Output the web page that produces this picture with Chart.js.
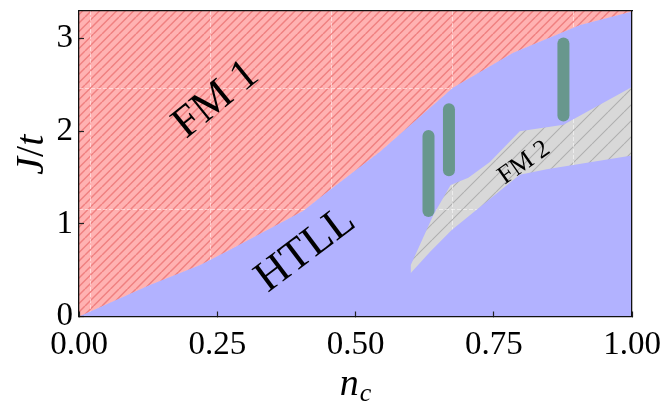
<!DOCTYPE html>
<html><head><meta charset="utf-8">
<script src="https://cdn.jsdelivr.net/npm/chart.js@4.4.1/dist/chart.umd.min.js"></script>
<style>html,body{margin:0;padding:0;background:#fff;overflow:hidden}#wrap{width:665px;height:404px;position:relative}</style>
</head><body><div id="wrap"><canvas id="c"></canvas></div>
<script>
// ---- data ----
const xTicks = [0, 0.25, 0.5, 0.75, 1.0];
const yTicks = [0, 1, 2, 3];
const xMin = 0, xMax = 1, yMin = 0, yMax = 3.3;
// faint background grid (offset from ticks)
const gridX = [0.02, 0.238, 0.457, 0.676, 0.894];
const gridY = [1.159, 2.467];
// FM 1 / HTLL boundary
const boundaryX = [0, 0.128, 0.219, 0.273, 0.405, 0.454, 0.544, 0.676, 0.785, 0.906, 1.0];
const boundaryY = [0, 0.34, 0.557, 0.72, 1.14, 1.37, 1.78, 2.47, 2.85, 3.15, 3.295];
// FM 2 pocket
const fm2LowerX = [0.600, 0.635, 0.674, 0.797, 0.846, 1.0];
const fm2LowerY = [0.47, 0.70, 0.935, 1.53, 1.59, 1.74];
const fm2UpperX = [0.600, 0.641, 0.672, 0.704, 0.743, 0.797, 0.876, 1.0];
const fm2UpperY = [0.557, 1.10, 1.42, 1.50, 1.67, 2.0, 2.07, 2.48];
// vertical bars
const barX = [0.632, 0.669, 0.876];
const barLow = [1.14, 1.58, 2.17];
const barHigh = [1.95, 2.24, 2.95];
// region labels
const labelText = ['FM 1', 'HTLL', 'FM 2'];
const labelX = [0.248, 0.41, 0.805];
const labelY = [2.34, 0.72, 1.66];

// ---- build helpers ----
const pts = (xs, ys) => xs.map((x, i) => ({x: x, y: ys[i]}));
function hatch(bg, line, step, perTile, lw) {
  const c = document.createElement('canvas');
  c.width = step; c.height = step;
  const g = c.getContext('2d');
  g.fillStyle = bg; g.fillRect(0, 0, step, step);
  g.strokeStyle = line; g.lineWidth = lw;
  g.beginPath();
  const d = step / perTile;
  for (let o = -step; o <= step; o += d) { g.moveTo(o, step); g.lineTo(o + step, 0); }
  g.stroke();
  return g.createPattern(c, 'repeat');
}
const redFill = hatch('rgb(255,178,178)', 'rgb(240,128,128)', 17, 2, 1.5);
const grayFill = hatch('rgb(216,216,216)', 'rgb(176,176,176)', 16, 1, 1.1);
const blueFill = 'rgb(178,178,255)';
const barColor = 'rgb(104,151,141)';

const boundary = pts(boundaryX, boundaryY);
const redPoly = boundary.concat([{x: xMax, y: yMax}, {x: xMin, y: yMax}]);
const bluePoly = boundary.concat([{x: xMax, y: yMin}, {x: xMin, y: yMin}]);
const fm2Poly = pts(fm2LowerX, fm2LowerY).concat(pts(fm2UpperX, fm2UpperY).reverse());

const datasets = [
  {label: 'HTLL', data: bluePoly, fill: 'shape', backgroundColor: blueFill, borderColor: blueFill, borderWidth: 1, pointRadius: 0, tension: 0, order: 5},
  {label: 'FM 1', data: redPoly, fill: 'shape', backgroundColor: redFill, borderWidth: 0, borderColor: 'rgba(0,0,0,0)', pointRadius: 0, tension: 0, order: 4},
  {label: 'FM 2', data: fm2Poly, fill: 'shape', backgroundColor: grayFill, borderWidth: 0, borderColor: 'rgba(0,0,0,0)', pointRadius: 0, tension: 0, order: 3}
];
barX.forEach((x, i) => datasets.push({
  label: 'bar' + i, data: [{x: x, y: barLow[i]}, {x: x, y: barHigh[i]}],
  fill: false, borderColor: barColor, borderWidth: 12, borderCapStyle: 'round',
  pointRadius: 0, order: 1
}));
const RED = 1, GRAY = 2;

const serif = "'Liberation Serif', 'DejaVu Serif', serif";
const frame = {display: true, color: '#111', width: 1.3, z: 2};
const noPad = s => { s.paddingLeft = 0; s.paddingRight = 0; s.paddingTop = 0; s.paddingBottom = 0; };

const overlay = {
  id: 'overlay',
  afterDatasetDraw(chart, args) {
    if (args.index !== GRAY) return;
    const ctx = chart.ctx, a = chart.chartArea;
    ctx.save();
    ctx.beginPath(); ctx.rect(a.left, a.top, a.right - a.left, a.bottom - a.top); ctx.clip();
    ctx.beginPath();
    chart.getDatasetMeta(RED).dataset.path(ctx); ctx.closePath();
    chart.getDatasetMeta(GRAY).dataset.path(ctx); ctx.closePath();
    ctx.clip();
    chart.scales.xg.drawGrid(a);
    chart.scales.yg.drawGrid(a);
    ctx.restore();
  },
  afterDraw(chart) {
    const ctx = chart.ctx, a = chart.chartArea, sx = chart.scales.x, sy = chart.scales.y;
    const angles = [-39, -37, -35], sizes = [44, 44, 26];
    ctx.save();
    ctx.fillStyle = '#000';
    labelText.forEach((t, i) => {
      ctx.save();
      ctx.translate(sx.getPixelForValue(labelX[i]), sy.getPixelForValue(labelY[i]));
      ctx.rotate(angles[i] * Math.PI / 180);
      ctx.font = sizes[i] + 'px ' + serif;
      ctx.textAlign = 'center'; ctx.textBaseline = 'middle';
      ctx.fillText(t, 0, 0);
      ctx.restore();
    });
    // x title n_c
    const cx = (a.left + a.right) / 2, by = 395;
    ctx.textBaseline = 'alphabetic'; ctx.textAlign = 'left';
    ctx.font = 'italic 38px ' + serif;
    const wn = ctx.measureText('n').width;
    ctx.font = 'italic 26px ' + serif;
    const wc = ctx.measureText('c').width;
    let x0 = cx - (wn + wc + 1) / 2;
    ctx.font = 'italic 38px ' + serif; ctx.fillText('n', x0, by);
    ctx.font = 'italic 26px ' + serif; ctx.fillText('c', x0 + wn + 1, by + 6);
    // y title J/t
    ctx.save();
    ctx.translate(43, (a.top + a.bottom) / 2 - 9);
    ctx.rotate(-Math.PI / 2);
    const parts = [['J', 'italic 40px '], ['/', '40px '], ['t', 'italic 40px ']];
    let tw = 0;
    parts.forEach(p => { ctx.font = p[1] + serif; tw += ctx.measureText(p[0]).width; });
    let px = -tw / 2;
    parts.forEach(p => { ctx.font = p[1] + serif; ctx.fillText(p[0], px, 0); px += ctx.measureText(p[0]).width; });
    ctx.restore();
    ctx.restore();
  }
};

new Chart(document.getElementById('c'), {
  type: 'line',
  data: {datasets: datasets},
  plugins: [overlay],
  options: {
    responsive: true, maintainAspectRatio: false, animation: false,
    layout: {padding: {top: 11, right: 33, left: 0, bottom: 0}},
    plugins: {legend: {display: false}, tooltip: {enabled: false}},
    elements: {line: {tension: 0}},
    scales: {
      x: {type: 'linear', position: 'bottom', min: xMin, max: xMax,
        afterBuildTicks: s => { s.ticks = xTicks.map(v => ({value: v})); },
        afterFit: s => { s.height = 87.5; noPad(s); },
        ticks: {callback: v => Number(v).toFixed(2), font: {family: serif, size: 33}, color: '#000', padding: 14, maxRotation: 0, autoSkip: false},
        grid: {display: true, drawOnChartArea: false, drawTicks: true, tickLength: -5, tickColor: '#222', tickWidth: 1.2, z: 1},
        border: frame},
      y: {type: 'linear', position: 'left', min: yMin, max: yMax,
        afterBuildTicks: s => { s.ticks = yTicks.map(v => ({value: v})); },
        afterFit: s => { s.width = 79; noPad(s); },
        ticks: {callback: v => String(v), font: {family: serif, size: 33}, color: '#000', padding: 11, autoSkip: false},
        grid: {display: true, drawOnChartArea: false, drawTicks: true, tickLength: -5, tickColor: '#222', tickWidth: 1.2, z: 1},
        border: frame},
      xt: {type: 'linear', position: 'top', min: xMin, max: xMax,
        ticks: {display: false}, grid: {display: false}, border: frame,
        afterFit: s => { s.height = 0; noPad(s); }},
      yr: {type: 'linear', position: 'right', min: yMin, max: yMax,
        ticks: {display: false}, grid: {display: false}, border: frame,
        afterFit: s => { s.width = 0; noPad(s); }},
      xg: {type: 'linear', display: false, position: 'bottom', min: xMin, max: xMax,
        afterBuildTicks: s => { s.ticks = gridX.map(v => ({value: v})); },
        afterFit: noPad,
        grid: {display: true, drawOnChartArea: true, drawTicks: false, color: 'rgba(255,255,255,0.5)', lineWidth: 1},
        border: {display: false, dash: [4, 2]}},
      yg: {type: 'linear', display: false, position: 'left', min: yMin, max: yMax,
        afterBuildTicks: s => { s.ticks = gridY.map(v => ({value: v})); },
        afterFit: noPad,
        grid: {display: true, drawOnChartArea: true, drawTicks: false, color: 'rgba(255,255,255,0.5)', lineWidth: 1},
        border: {display: false, dash: [4, 2]}}
    }
  }
});
</script>
</body></html>
